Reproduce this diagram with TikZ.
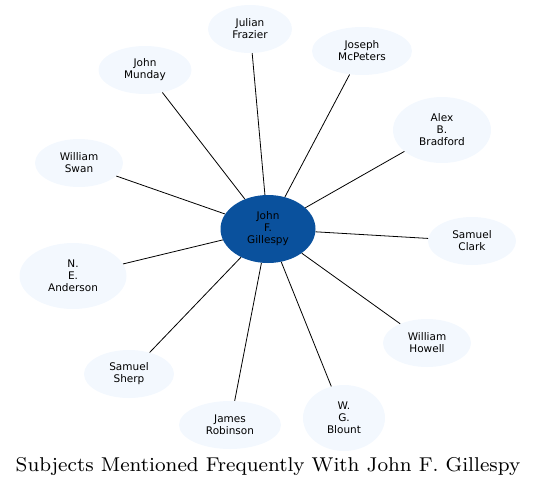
\documentclass[tikz,border=0pt]{standalone}
\usepackage{fontspec}
\setsansfont{DejaVu Sans}
\newfontfamily\titlefont{lmroman8-regular.otf}
\usetikzlibrary{shapes.geometric}
\definecolor{hubblue}{HTML}{0A519D}
\definecolor{leafblue}{HTML}{F3F8FE}
\begin{document}
\begin{tikzpicture}[x=1pt,y=-1pt,
  every node/.style={font=\sffamily\fontsize{10.5}{12}\selectfont,align=center,inner sep=0pt},
  subj/.style={ellipse,fill=leafblue,minimum height=48pt},
  link/.style={draw,black,line width=0.8pt}]
  \useasboundingbox (0,0) rectangle (537,488);
  \node[ellipse,fill=hubblue,minimum width=95pt,minimum height=68pt] (hub) at (268,229) {John\\F.\\Gillespy};
  % people around the hub
  \node[subj,minimum width=84pt] (frazier) at (250,29) {Julian\\Frazier};
  \node[subj,minimum width=100pt] (mcpeters) at (362,51) {Joseph\\McPeters};
  \node[subj,minimum width=93pt] (munday) at (145,70) {John\\Munday};
  \node[subj,minimum width=98pt,minimum height=66pt] (bradford) at (442,130) {Alex\\B.\\Bradford};
  \node[subj,minimum width=88pt] (swan) at (79,163) {William\\Swan};
  \node[subj,minimum width=88pt] (clark) at (472,241) {Samuel\\Clark};
  \node[subj,minimum width=107pt,minimum height=66pt] (anderson) at (73,276) {N.\\E.\\Anderson};
  \node[subj,minimum width=88pt] (howell) at (427,343) {William\\Howell};
  \node[subj,minimum width=90pt] (sherp) at (129,374) {Samuel\\Sherp};
  \node[subj,minimum width=102pt] (robinson) at (230,425) {James\\Robinson};
  \node[subj,minimum width=82pt,minimum height=66pt] (blount) at (344,418) {W.\\G.\\Blount};
  \foreach \p in {frazier,mcpeters,munday,bradford,swan,clark,anderson,howell,sherp,robinson,blount}
    \draw[link] (hub) -- (\p);
  \node[font=\titlefont\fontsize{20}{22}\selectfont] (title) at (268,466) {Subjects Mentioned Frequently With John F. Gillespy};
\end{tikzpicture}
\end{document}
